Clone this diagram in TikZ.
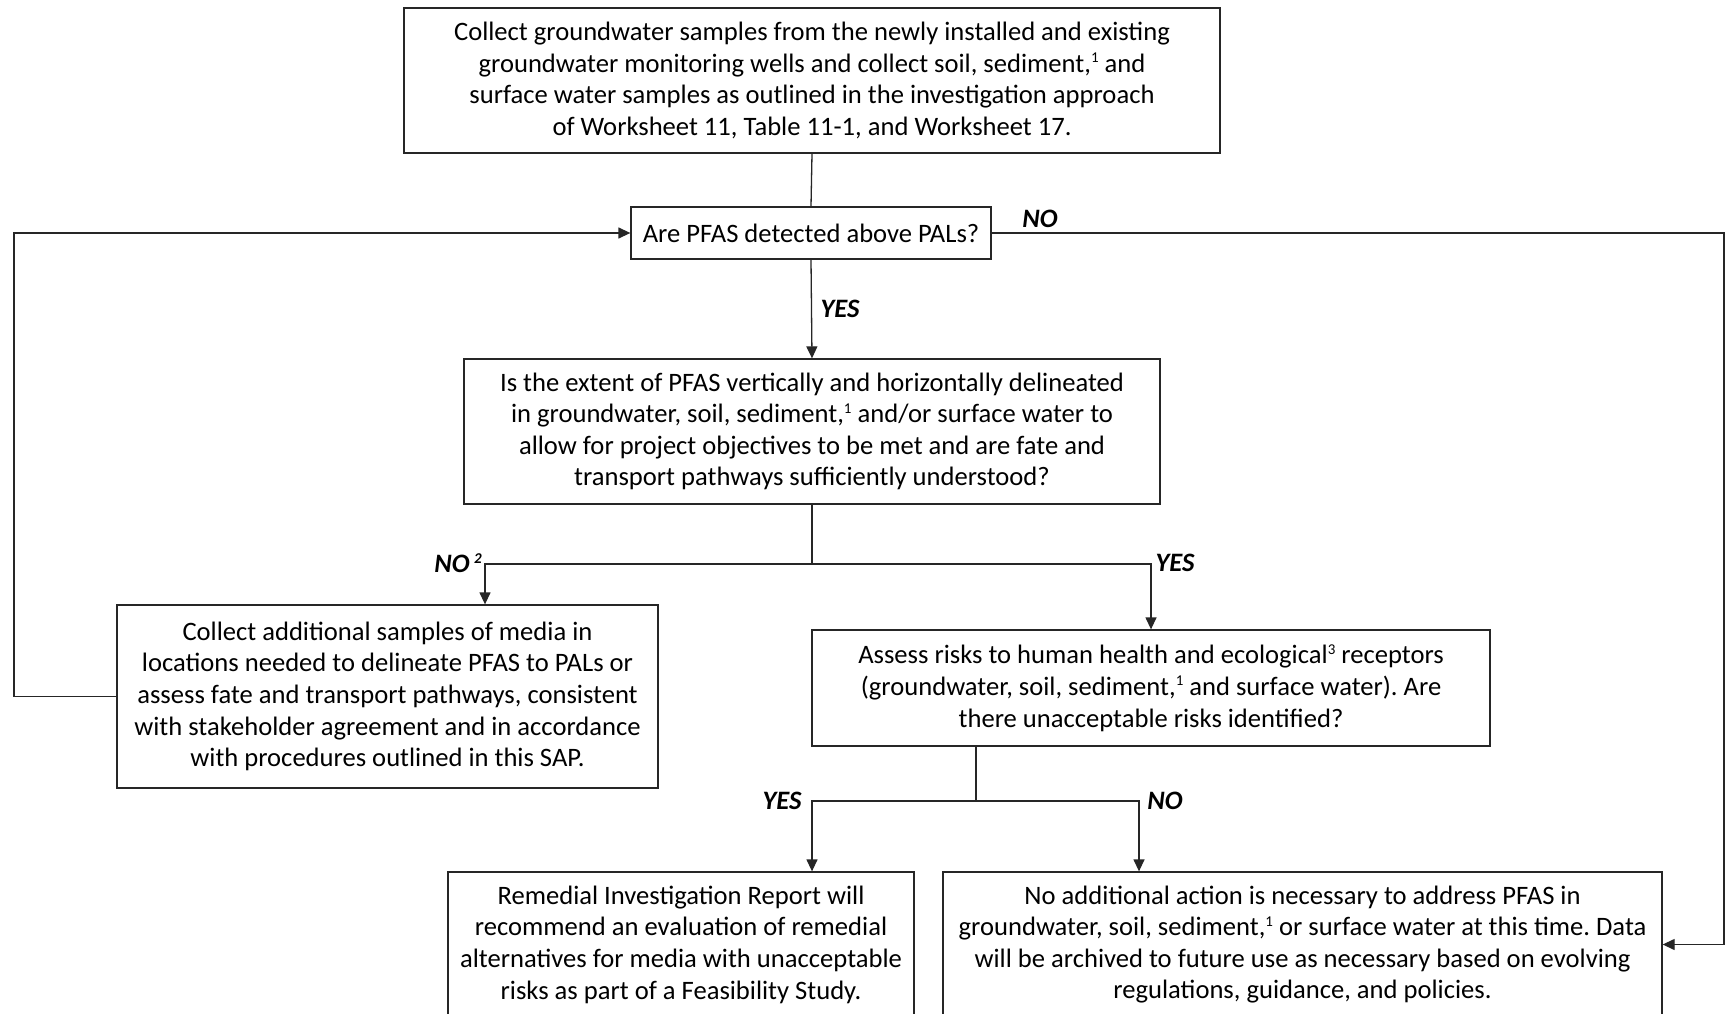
\documentclass[tikz,border=0pt]{standalone}
\usepackage{fontspec}
\setmainfont{Carlito}
\frenchspacing
\usetikzlibrary{arrows.meta}
\newcommand{\supnum}[1]{\raisebox{0.36em}{\fontsize{15}{15}\selectfont #1}}
\tikzset{
  box/.style={draw=black!85, line width=1.3pt, align=center, inner sep=0pt,
    font=\fontsize{26.6}{31.6}\selectfont, text=black},
  conn/.style={draw=black!85, line width=1.3pt},
  arr/.style={conn, -{Triangle[length=12pt,width=11pt]}},
  lbl/.style={font=\fontsize{26.6}{31.6}\selectfont\bfseries\itshape, inner sep=0pt}
}
\begin{document}
\begin{tikzpicture}[x=1pt,y=-1pt]
\path[use as bounding box] (0,0) rectangle (1727,1014);
\clip (0,0) rectangle (1727,1014);
\fill[white] (0,0) rectangle (1727,1014);
% nodes
\node[box, minimum width=816pt, minimum height=145pt] (b1) at (812,80.5)
 {Collect groundwater samples from the newly installed and existing\\
  groundwater monitoring wells and collect soil, sediment,\supnum{1} and\\
  surface water samples as outlined in the investigation approach\\
  of Worksheet 11, Table 11-1, and Worksheet 17.};
\node[box, minimum width=360pt, minimum height=52pt] (b2) at (811,233)
 {Are PFAS detected above PALs?};
\node[box, minimum width=696pt, minimum height=145pt] (b3) at (812,431.5)
 {Is the extent of PFAS vertically and horizontally delineated\\
  in groundwater, soil, sediment,\supnum{1} and/or surface water to\\
  allow for project objectives to be met and are fate and\\
  transport pathways sufficiently understood?};
\node[box, minimum width=541pt, minimum height=183pt] (b4) at (387.5,696.5)
 {Collect additional samples of media in\\
  locations needed to delineate PFAS to PALs or\\
  assess fate and transport pathways, consistent\\
  with stakeholder agreement and in accordance\\
  with procedures outlined in this SAP.};
\node[box, minimum width=678pt, minimum height=116pt] (b5) at (1151,688)
 {Assess risks to human health and ecological\supnum{3} receptors\\
  (groundwater, soil, sediment,\supnum{1} and surface water). Are\\
  there unacceptable risks identified?};
\node[box, minimum width=466pt, minimum height=145pt] (b6) at (681,944.5)
 {Remedial Investigation Report will\\
  recommend an evaluation of remedial\\
  alternatives for media with unacceptable\\
  risks as part of a Feasibility Study.};
\node[box, minimum width=719pt, minimum height=145pt] (b7) at (1302.5,944.5)
 {No additional action is necessary to address PFAS in\\
  groundwater, soil, sediment,\supnum{1} or surface water at this time. Data\\
  will be archived to future use as necessary based on evolving\\
  regulations, guidance, and policies.};
% coordinates
\coordinate (j1) at (812,564);
\coordinate (j1l) at (485,564);
\coordinate (j2) at (976,801);
\coordinate (j2l) at (812,801);
\coordinate (j2r) at (1139,801);
\coordinate (cl) at (14,696.5);
\coordinate (cr) at (1724,233);
% connectors
\draw[conn] (b1.south) -- (b2.north);
\draw[arr] (b2.south) -- (b3.north);
\draw[conn] (b3.south) -- (j1);
\draw[arr] (j1) -- (j1l) -- (b4.north -| j1l);
\draw[arr] (j1) -| (b5.north);
\draw[conn] (b5.south -| j2) -- (j2);
\draw[arr] (j2) -- (j2l) -- (b6.north -| j2l);
\draw[arr] (j2) -- (j2r) -- (b7.north -| j2r);
\draw[arr] (b4.west) -- (cl) |- (b2.west);
\draw[arr] (b2.east) -- (cr) |- (b7.east);
% labels
\node[lbl] (lno1) at (1040,219) {NO};
\node[lbl] (lyes1) at (840,309) {YES};
\node[lbl] (lno2) at (458,563) {NO\,\supnum{\bfseries\itshape 2}};
\node[lbl] (lyes2) at (1175,563) {YES};
\node[lbl] (lyes3) at (782,801) {YES};
\node[lbl] (lno3) at (1165,801) {NO};
\end{tikzpicture}
\end{document}
